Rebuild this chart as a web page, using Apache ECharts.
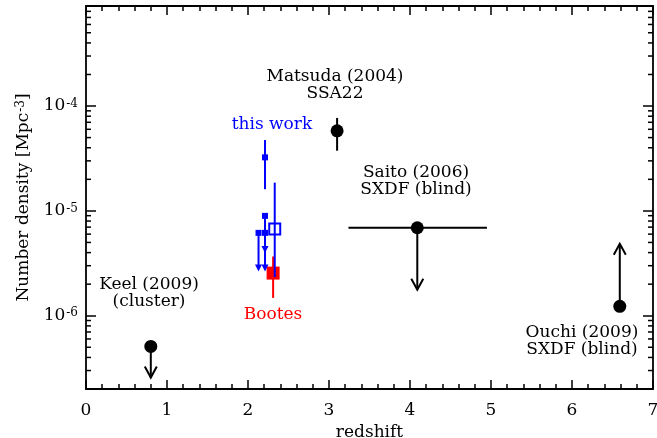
<!DOCTYPE html>
<html>
<head>
<meta charset="utf-8">
<script src="https://cdn.jsdelivr.net/npm/echarts@6/dist/echarts.min.js"></script>
<style>
  html, body { margin: 0; padding: 0; background: #fff; }
  #chart { width: 657px; height: 438px; }
</style>
</head>
<body>
<div id="chart"></div>
<script>
const FONT = '"DejaVu Serif", serif';
const BLUE = '#0000ff';
const RED = '#ff0000';

// Axis ranges and labelled ticks
const zRange = [0, 7];
const densityRange = [2e-7, 9e-4];
const densityDecades = [1e-6, 1e-5, 1e-4];

// Published measurements (filled black circles)
const litNames = ['Keel (2009)', 'Matsuda (2004)', 'Saito (2006)', 'Ouchi (2009)'];
const litZ = [0.80, 3.10, 4.09, 6.59];
const litDensity = [5.1e-7, 5.8e-5, 6.9e-6, 1.23e-6];

// Matsuda (2004) density error range
const matsudaErr = [3.75e-5, 7.7e-5];
// Saito (2006) redshift coverage
const saitoZRange = [3.24, 4.95];
// Limits: density the arrow points to
const keelUpperLimit = 2.57e-7;
const saitoUpperLimit = 1.77e-6;
const ouchiLowerLimit = 4.85e-6;

// This work: small filled squares
const workZ = [2.21, 2.21, 2.13, 2.21];
const workDensity = [3.24e-5, 8.96e-6, 6.17e-6, 6.17e-6];
const workTopErr = [1.61e-5, 4.74e-5];
// upper limits for the last three squares
const workUpperLimits = [3.96e-6, 2.64e-6, 2.64e-6];

// This work: open square with error range
const workOpenZ = 2.33;
const workOpenDensity = 6.7e-6;
const workOpenErr = [2.34e-6, 1.86e-5];

// Bootes field (red filled square)
const bootesZ = 2.31;
const bootesDensity = 2.55e-6;
const bootesErr = [1.48e-6, 3.67e-6];

// Text annotations: [z, density, text, colour]
const notes = [
  [3.074, 1.585e-4, 'Matsuda (2004)\nSSA22', '#000'],
  [2.296, 6.59e-5, 'this work', BLUE],
  [4.074, 1.93e-5, 'Saito (2006)\nSXDF (blind)', '#000'],
  [0.778, 1.66e-6, 'Keel (2009)\n(cluster)', '#000'],
  [6.123, 5.71e-7, 'Ouchi (2009)\nSXDF (blind)', '#000'],
  [2.309, 1.02e-6, 'Bootes', RED]
];

// Minor log ticks (2..9 within each decade)
const yMinorTicks = [];
for (let e = -7; e <= -4; e++) {
  for (let m = 2; m <= 9; m++) {
    const v = m * Math.pow(10, e);
    if (v > densityRange[0] * 1.0001 && v < densityRange[1] * 0.9999) yMinorTicks.push(v);
  }
}

// Plot box in pixels, used to turn tick lengths into axis units
const GRID = { left: 86, right: 4, top: 6, bottom: 49 };
const plotW = 657 - GRID.left - GRID.right;
const zPerPx = (zRange[1] - zRange[0]) / plotW;

// Minor log ticks on both vertical edges as [x1, y1, x2, y2], inner end first
const MINOR_LEN = 5;
const yMinorSegs = [].concat(...yMinorTicks.map(v => [
  [zRange[0] + MINOR_LEN * zPerPx, v, zRange[0], v],
  [zRange[1] - MINOR_LEN * zPerPx, v, zRange[1], v]
]));

const chart = echarts.init(document.getElementById('chart'));

// straight segments: [x1, y1, x2, y2]
function segmentSeries(data, color, width, z) {
  return {
    type: 'custom', z: z, silent: true, clip: false,
    data: data,
    renderItem: function (params, api) {
      const p = api.coord([api.value(0), api.value(1)]);
      const q = api.coord([api.value(2), api.value(3)]);
      return {
        type: 'line',
        shape: { x1: p[0], y1: p[1], x2: q[0], y2: q[1] },
        style: { stroke: color, lineWidth: width }
      };
    }
  };
}

// limit arrows: [x, yFrom, yTo]
function arrowSeries(data, color, width, filled, z) {
  return {
    type: 'custom', z: z, silent: true, clip: false,
    data: data,
    renderItem: function (params, api) {
      const p = api.coord([api.value(0), api.value(1)]);
      const q = api.coord([api.value(0), api.value(2)]);
      const dir = q[1] > p[1] ? 1 : -1;
      const children = [{
        type: 'line',
        shape: { x1: p[0], y1: p[1], x2: q[0], y2: q[1] - (filled ? dir * 3 : 0) },
        style: { stroke: color, lineWidth: width }
      }];
      if (filled) {
        children.push({
          type: 'polygon',
          shape: { points: [[q[0] - 3.5, q[1] - dir * 7], [q[0], q[1]], [q[0] + 3.5, q[1] - dir * 7]] },
          style: { fill: color }
        });
      } else {
        children.push({
          type: 'polyline',
          shape: { points: [[q[0] - 6, q[1] - dir * 11], [q[0], q[1]], [q[0] + 6, q[1] - dir * 11]] },
          style: { stroke: color, lineWidth: width, fill: null }
        });
      }
      return { type: 'group', children: children };
    }
  };
}

const axisText = { color: '#000', fontFamily: FONT, fontSize: 17 };
const tickStyle = { color: '#000', width: 1.5 };

function xAxisDef(pos, labels) {
  return {
    type: 'value', position: pos, min: zRange[0], max: zRange[1], interval: 1,
    axisLine: { show: true, onZero: false, lineStyle: { color: '#000', width: 1.8 } },
    axisTick: { show: true, inside: true, length: 9, lineStyle: tickStyle },
    minorTick: { show: true, splitNumber: 5, length: 5, lineStyle: tickStyle },
    splitLine: { show: false },
    axisLabel: Object.assign({ show: labels, margin: 13 }, axisText),
    name: labels ? 'redshift' : '', nameLocation: 'middle', nameGap: 33,
    nameTextStyle: axisText
  };
}

function yAxisDef(pos, labels) {
  return {
    type: 'log', logBase: 10, position: pos, min: densityRange[0], max: densityRange[1],
    axisLine: { show: true, onZero: false, lineStyle: { color: '#000', width: 1.8 } },
    axisTick: { show: true, inside: true, length: 10, lineStyle: tickStyle },
    minorTick: { show: false },
    splitLine: { show: false },
    axisLabel: {
      show: labels, margin: 8,
      formatter: function (v) {
        const e = Math.round(Math.log10(v));
        const isDecade = densityDecades.some(d => Math.abs(Math.log10(d) - Math.log10(v)) < 1e-6);
        return isDecade ? '{b|10}{s|' + e + '}' : '';
      },
      rich: {
        b: { fontFamily: FONT, fontSize: 17, color: '#000' },
        s: { fontFamily: FONT, fontSize: 12, color: '#000', verticalAlign: 'top', padding: [0, 0, 0, 1] }
      }
    },
    name: labels ? '{a|Number density [Mpc}{s|-3}{a|]}' : '',
    nameLocation: 'middle', nameGap: 54, nameRotate: 90,
    nameTextStyle: {
      rich: {
        a: { fontFamily: FONT, fontSize: 17, color: '#000' },
        s: { fontFamily: FONT, fontSize: 12, color: '#000', verticalAlign: 'top', padding: [0, 0, 0, 1] }
      }
    }
  };
}

const option = {
  animation: false,
  backgroundColor: '#fff',
  grid: Object.assign({ containLabel: false, outerBoundsMode: 'none' }, GRID),
  xAxis: [xAxisDef('bottom', true), xAxisDef('top', false)],
  yAxis: [yAxisDef('left', true), yAxisDef('right', false)],
  series: [
    // Bootes
    segmentSeries([[bootesZ, bootesErr[0], bootesZ, bootesErr[1]]], RED, 2, 2),
    {
      type: 'scatter', z: 3, silent: true, symbol: 'rect', symbolSize: 13,
      itemStyle: { color: RED, opacity: 1 },
      data: [[bootesZ, bootesDensity]]
    },
    // black error bars
    segmentSeries([
      [litZ[1], matsudaErr[0], litZ[1], matsudaErr[1]],
      [saitoZRange[0], litDensity[2], saitoZRange[1], litDensity[2]]
    ], '#000', 2, 4),
    // black limit arrows
    arrowSeries([
      [litZ[0], litDensity[0], keelUpperLimit],
      [litZ[2], litDensity[2], saitoUpperLimit],
      [litZ[3], litDensity[3], ouchiLowerLimit]
    ], '#000', 2, false, 4),
    // black circles
    {
      type: 'scatter', z: 5, silent: true, symbol: 'circle', symbolSize: 13,
      itemStyle: { color: '#000', opacity: 1 },
      data: litZ.map((z, i) => [z, litDensity[i]])
    },
    // this work: error bars
    segmentSeries([
      [workZ[0], workTopErr[0], workZ[0], workTopErr[1]],
      [workOpenZ, workOpenErr[0], workOpenZ, workOpenErr[1]]
    ], BLUE, 2, 6),
    // this work: upper limits
    arrowSeries(workUpperLimits.map((lim, i) => [workZ[i + 1], workDensity[i + 1], lim]), BLUE, 2, true, 6),
    {
      type: 'scatter', z: 7, silent: true, symbol: 'rect', symbolSize: 6,
      itemStyle: { color: BLUE, opacity: 1 },
      data: workZ.map((z, i) => [z, workDensity[i]])
    },
    {
      type: 'scatter', z: 7, silent: true, symbol: 'rect', symbolSize: 11,
      itemStyle: { color: 'rgba(0,0,0,0)', borderColor: BLUE, borderWidth: 2, opacity: 1 },
      data: [[workOpenZ, workOpenDensity]]
    },
    // annotations
    {
      type: 'custom', z: 8, silent: true, clip: false,
      data: notes.map(n => [n[0], n[1]]),
      renderItem: function (params, api) {
        const p = api.coord([api.value(0), api.value(1)]);
        const n = notes[params.dataIndex];
        return {
          type: 'text',
          x: p[0], y: p[1],
          style: {
            text: n[2], fill: n[3], font: '17px ' + FONT,
            align: 'center', verticalAlign: 'middle', lineHeight: 17
          }
        };
      }
    },
    // minor log ticks
    segmentSeries(yMinorSegs, '#000', 1.5, 10)
  ]
};

chart.setOption(option);
</script>
</body>
</html>
